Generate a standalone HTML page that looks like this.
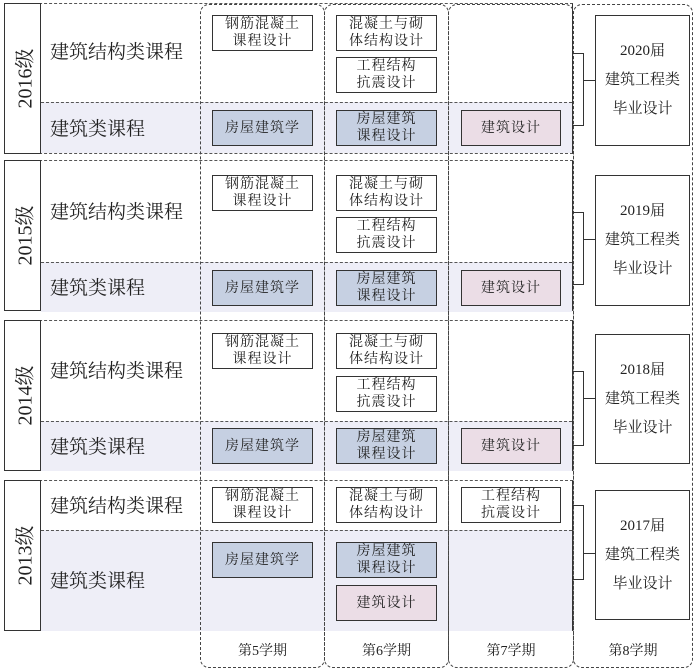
<!DOCTYPE html>
<html><head><meta charset="utf-8">
<style>
*{margin:0;padding:0;box-sizing:border-box}
body{width:700px;height:672px;background:#fff;position:relative;overflow:hidden;font-family:"Liberation Serif","Noto Serif CJK SC",serif;color:#222}
.col{position:absolute;top:4px;height:664px;border:1px dashed #444;border-radius:9px;z-index:5}
.blk{position:absolute;left:4px;width:569px;height:151px;border:1px solid #333;border-top:1px dashed #555;border-bottom:1px dashed #555}
.yr{position:absolute;left:4px;width:37px;height:151px;border:1.5px solid #333;background:#fff;display:flex;align-items:center;justify-content:center;z-index:6}
.yr span{transform:rotate(-90deg);white-space:nowrap;font-size:20px}
.shade{position:absolute;left:41px;width:531px;background:#eeeef7;border-top:1px dashed #555}
.lab{position:absolute;left:50px;font-size:19px;white-space:nowrap;z-index:6}
.bx{position:absolute;border:1.5px solid #333;background:#fff;font-size:14px;line-height:17px;text-align:center;display:flex;align-items:center;justify-content:center;letter-spacing:1px;z-index:7}
.bl{background:#c6d0e2}
.pk{background:#ebdde6}
.fin{position:absolute;left:595px;width:95px;border:1.5px solid #333;background:#fff;font-size:15px;line-height:29px;text-align:center;display:flex;align-items:center;justify-content:center;z-index:7}
.br{position:absolute;left:573px;width:11px;border:1.5px solid #333;border-left:none;z-index:7}
.bt{position:absolute;left:584px;width:11px;border-top:1.5px solid #333;z-index:7}
.ft{position:absolute;top:640px;font-size:14px;text-align:center}
</style></head><body>
<div class="col" style="left:200px;width:125px"></div>
<div class="col" style="left:324px;width:125px"></div>
<div class="col" style="left:448px;width:126px"></div>
<div class="col" style="left:573px;width:120px"></div>

<!-- 2016 -->
<div class="blk" style="top:3px"></div>
<div class="shade" style="top:102px;height:51px"></div>
<div class="yr" style="top:3px"><span>2016级</span></div>
<div class="lab" style="top:37px">建筑结构类课程</div>
<div class="lab" style="top:114px">建筑类课程</div>
<div class="bx" style="left:212px;top:15px;width:101px;height:36px">钢筋混凝土<br>课程设计</div>
<div class="bx" style="left:336px;top:15px;width:101px;height:36px">混凝土与砌<br>体结构设计</div>
<div class="bx" style="left:336px;top:57px;width:101px;height:36px">工程结构<br>抗震设计</div>
<div class="bx bl" style="left:212px;top:110px;width:101px;height:36px">房屋建筑学</div>
<div class="bx bl" style="left:336px;top:110px;width:101px;height:36px">房屋建筑<br>课程设计</div>
<div class="bx pk" style="left:461px;top:110px;width:100px;height:36px">建筑设计</div>
<div class="fin" style="top:15px;height:131px">2020届<br>建筑工程类<br>毕业设计</div>
<div class="br" style="top:53px;height:73px"></div>
<div class="bt" style="top:80px"></div>

<!-- 2015 -->
<div class="blk" style="top:160px"></div>
<div class="shade" style="top:262px;height:50px"></div>
<div class="yr" style="top:160px"><span>2015级</span></div>
<div class="lab" style="top:197px">建筑结构类课程</div>
<div class="lab" style="top:273px">建筑类课程</div>
<div class="bx" style="left:212px;top:175px;width:101px;height:36px">钢筋混凝土<br>课程设计</div>
<div class="bx" style="left:336px;top:175px;width:101px;height:36px">混凝土与砌<br>体结构设计</div>
<div class="bx" style="left:336px;top:217px;width:101px;height:36px">工程结构<br>抗震设计</div>
<div class="bx bl" style="left:212px;top:270px;width:101px;height:36px">房屋建筑学</div>
<div class="bx bl" style="left:336px;top:270px;width:101px;height:36px">房屋建筑<br>课程设计</div>
<div class="bx pk" style="left:461px;top:270px;width:100px;height:36px">建筑设计</div>
<div class="fin" style="top:175px;height:131px">2019届<br>建筑工程类<br>毕业设计</div>
<div class="br" style="top:212px;height:73px"></div>
<div class="bt" style="top:239px"></div>

<!-- 2014 -->
<div class="blk" style="top:320px"></div>
<div class="shade" style="top:421px;height:50px"></div>
<div class="yr" style="top:320px"><span>2014级</span></div>
<div class="lab" style="top:356px">建筑结构类课程</div>
<div class="lab" style="top:432px">建筑类课程</div>
<div class="bx" style="left:212px;top:333px;width:101px;height:36px">钢筋混凝土<br>课程设计</div>
<div class="bx" style="left:336px;top:333px;width:101px;height:36px">混凝土与砌<br>体结构设计</div>
<div class="bx" style="left:336px;top:376px;width:101px;height:36px">工程结构<br>抗震设计</div>
<div class="bx bl" style="left:212px;top:428px;width:101px;height:36px">房屋建筑学</div>
<div class="bx bl" style="left:336px;top:428px;width:101px;height:36px">房屋建筑<br>课程设计</div>
<div class="bx pk" style="left:461px;top:428px;width:100px;height:36px">建筑设计</div>
<div class="fin" style="top:334px;height:130px">2018届<br>建筑工程类<br>毕业设计</div>
<div class="br" style="top:371px;height:75px"></div>
<div class="bt" style="top:398px"></div>

<!-- 2013 -->
<div class="blk" style="top:480px"></div>
<div class="shade" style="top:530px;height:101px"></div>
<div class="yr" style="top:480px"><span>2013级</span></div>
<div class="lab" style="top:491px">建筑结构类课程</div>
<div class="lab" style="top:566px">建筑类课程</div>
<div class="bx" style="left:212px;top:487px;width:101px;height:36px">钢筋混凝土<br>课程设计</div>
<div class="bx" style="left:336px;top:487px;width:101px;height:36px">混凝土与砌<br>体结构设计</div>
<div class="bx" style="left:461px;top:487px;width:100px;height:36px">工程结构<br>抗震设计</div>
<div class="bx bl" style="left:212px;top:542px;width:101px;height:36px">房屋建筑学</div>
<div class="bx bl" style="left:336px;top:542px;width:101px;height:36px">房屋建筑<br>课程设计</div>
<div class="bx pk" style="left:336px;top:585px;width:101px;height:36px">建筑设计</div>
<div class="fin" style="top:490px;height:130px">2017届<br>建筑工程类<br>毕业设计</div>
<div class="br" style="top:505px;height:75px"></div>
<div class="bt" style="top:553px"></div>

<div class="ft" style="left:200px;width:125px">第5学期</div>
<div class="ft" style="left:324px;width:125px">第6学期</div>
<div class="ft" style="left:448px;width:126px">第7学期</div>
<div class="ft" style="left:573px;width:120px">第8学期</div>
</body></html>
